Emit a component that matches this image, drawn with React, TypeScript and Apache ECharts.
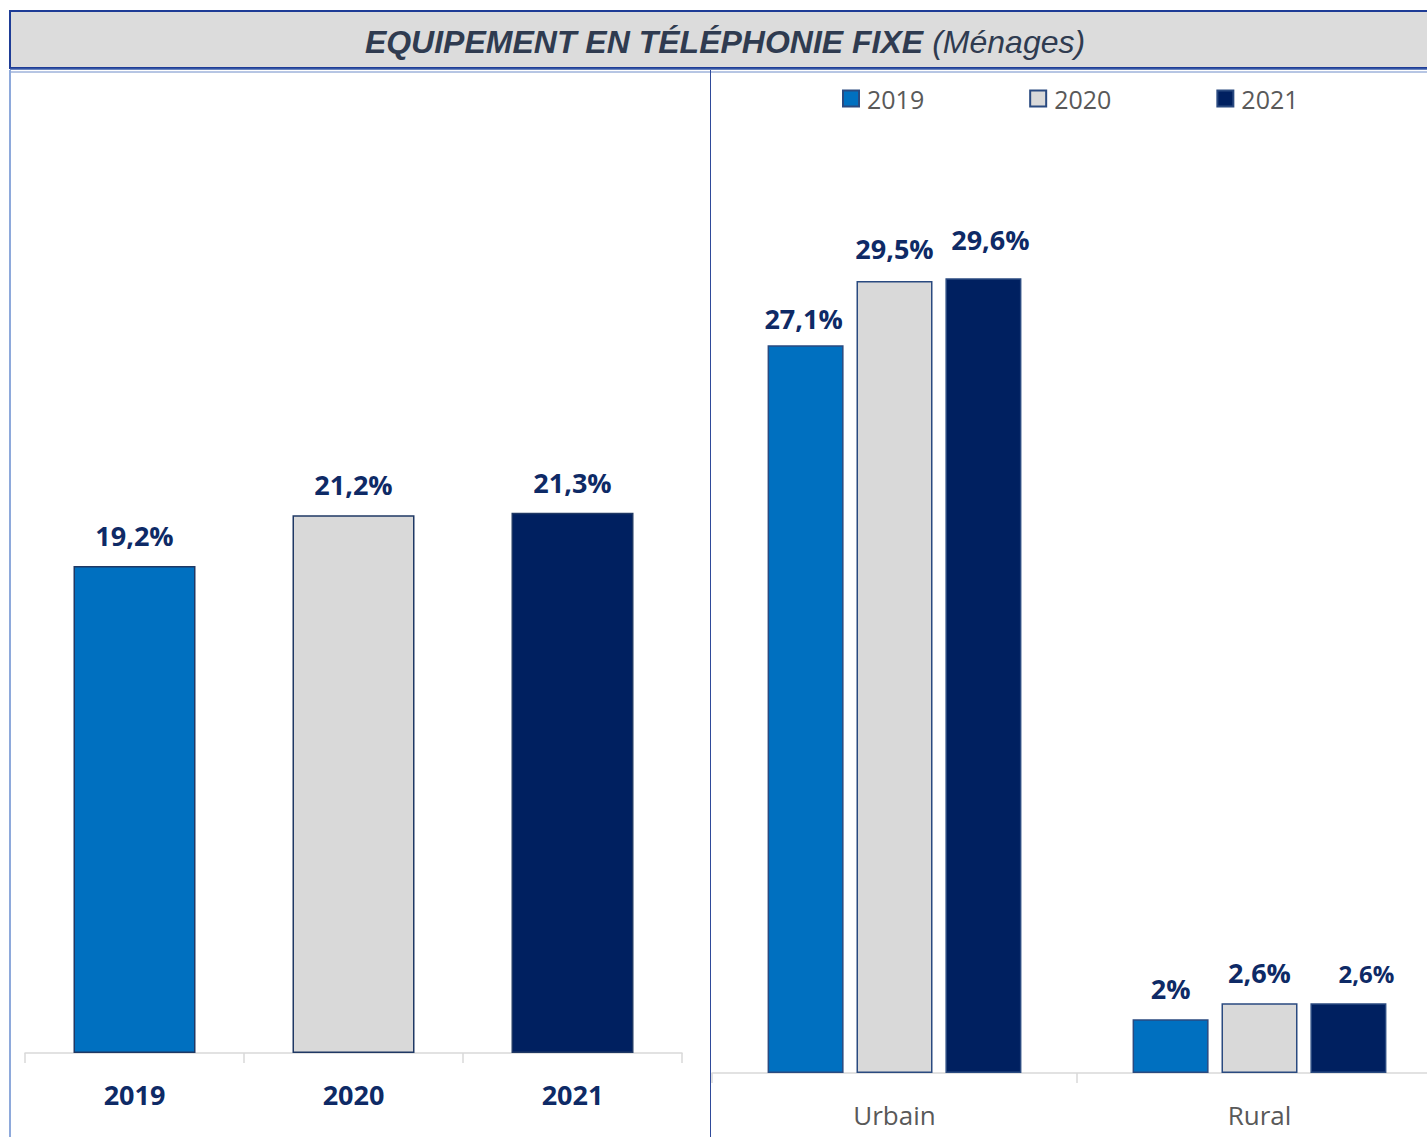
import React, { useEffect, useRef } from "react";
import * as echarts from "echarts";

const totalCategories = ["2019", "2020", "2021"];
const totalValues = [19.2, 21.2, 21.3];
const zoneCategories = ["Urbain", "Rural"];
const years = ["2019", "2020", "2021"];
const values2019 = [27.1, 2];
const values2020 = [29.5, 2.6];
const values2021 = [29.6, 2.6];

const yearColors = ["#0070C0", "#D9D9D9", "#002060"];
const labelColor = "#0E2A66";
const FONT = "'Open Sans', 'Noto Sans', sans-serif";

function fmt(v: number) {
  return String(v).replace(".", ",") + "%";
}

export default function App() {
  const ref = useRef<HTMLDivElement>(null);
  useEffect(() => {
    if (!ref.current) return;
    const chart = echarts.init(ref.current, null, { renderer: "svg" });
    const zoneSeries = [values2019, values2020, values2021].map((vals, i) => ({
      name: years[i],
      type: "bar",
      xAxisIndex: 1,
      yAxisIndex: 1,
      barWidth: 76,
      barGap: "17%",
      itemStyle: { color: yearColors[i], borderColor: "#2A4A80", borderWidth: 1.5 },
      label: {
        show: true,
        position: "top",
        distance: 17,
        color: labelColor,
        fontFamily: FONT,
        fontWeight: "bold",
        fontSize: 27,
        formatter: (p: any) => fmt(p.value),
      },
      data: vals.map((v, j) => {
        if (i === 0 && j === 0) return { value: v, label: { distance: 13, offset: [-2, 0] } };
        if (i === 1 && j === 0) return { value: v, label: { distance: 19 } };
        if (i === 2 && j === 0) return { value: v, label: { distance: 25, offset: [7, 0] } };
        if (i === 2 && j === 1) return { value: v, label: { fontSize: 24, distance: 18, offset: [18, 0] } };
        return v;
      }),
    }));

    chart.setOption({
      animation: false,
      backgroundColor: "#ffffff",
      graphic: [
        {
          type: "rect",
          shape: { x: 10, y: 11, width: 1440, height: 57 },
          style: { fill: "#DCDCDC", stroke: "#1E3C96", lineWidth: 2 },
          z: 0,
        },
        { type: "line", shape: { x1: 10, y1: 69, x2: 1442, y2: 69 }, style: { stroke: "#3B5CA8", lineWidth: 1.5 } },
        { type: "line", shape: { x1: 10, y1: 72, x2: 1442, y2: 72 }, style: { stroke: "#6F8CC8", lineWidth: 1 } },
        { type: "line", shape: { x1: 10, y1: 70, x2: 10, y2: 1137 }, style: { stroke: "#8EA9DB", lineWidth: 2 } },
        { type: "line", shape: { x1: 710.5, y1: 70, x2: 710.5, y2: 1137 }, style: { stroke: "#2F4A9A", lineWidth: 1 } },
        {
          type: "text",
          x: 725,
          y: 42,
          style: {
            text: "{b|EQUIPEMENT EN TÉLÉPHONIE FIXE}{s| }{n|(Ménages)}",
            align: "center",
            verticalAlign: "middle",
            rich: {
              b: {
                fontFamily: "'Liberation Sans', Arial, sans-serif",
                fontWeight: "bold",
                fontStyle: "italic",
                fontSize: 32,
                fill: "#2F3B50",
              },
              s: { width: 9, fontSize: 32 },
              n: {
                fontFamily: "'Liberation Sans', Arial, sans-serif",
                fontStyle: "italic",
                fontSize: 32,
                fill: "#2F3B50",
              },
            },
          },
          z: 10,
        },
      ],
      legend: {
        data: years,
        left: 842,
        top: 86,
        padding: 0,
        itemWidth: 16,
        itemHeight: 16,
        itemGap: 105,
        icon: "rect",
        textStyle: { color: "#595959", fontFamily: FONT, fontSize: 25, padding: [0, 0, 0, 3] },
      },
      grid: [
        { left: 25, top: 292, width: 657, height: 761 },
        { left: 712, top: 267.5, width: 730, height: 805.5 },
      ],
      xAxis: [
        {
          type: "category",
          gridIndex: 0,
          data: totalCategories,
          axisLine: { lineStyle: { color: "#D9D9D9", width: 1.5 } },
          axisTick: { show: true, length: 10, lineStyle: { color: "#D9D9D9", width: 1.5 } },
          axisLabel: {
            color: labelColor,
            fontFamily: FONT,
            fontWeight: "bold",
            fontSize: 27,
            margin: 28,
          },
        },
        {
          type: "category",
          gridIndex: 1,
          data: zoneCategories,
          axisLine: { lineStyle: { color: "#D9D9D9", width: 1.5 } },
          axisTick: { show: true, length: 10, lineStyle: { color: "#D9D9D9", width: 1.5 } },
          axisLabel: { color: "#595959", fontFamily: FONT, fontSize: 26, margin: 29 },
        },
      ],
      yAxis: [
        { type: "value", gridIndex: 0, min: 0, max: 30, show: false, splitLine: { show: false } },
        { type: "value", gridIndex: 1, min: 0, max: 30, show: false, splitLine: { show: false } },
      ],
      series: [
        {
          name: "Total",
          type: "bar",
          xAxisIndex: 0,
          yAxisIndex: 0,
          barWidth: 122,
          label: {
            show: true,
            position: "top",
            distance: 17,
            color: labelColor,
            fontFamily: FONT,
            fontWeight: "bold",
            fontSize: 27,
            formatter: (p: any) => fmt(p.value),
          },
          data: totalValues.map((v, i) => ({
            value: v,
            itemStyle: { color: yearColors[i], borderColor: "#1F3864", borderWidth: 1.5 },
          })),
        },
        ...zoneSeries,
      ],
    });
    return () => chart.dispose();
  }, []);

  return (
    <div
      style={{
        position: "fixed",
        left: 0,
        top: 0,
        width: 1427,
        height: 1137,
        overflow: "hidden",
        background: "#fff",
      }}
    >
      <div ref={ref} style={{ width: 1442, height: 1137 }} />
    </div>
  );
}
